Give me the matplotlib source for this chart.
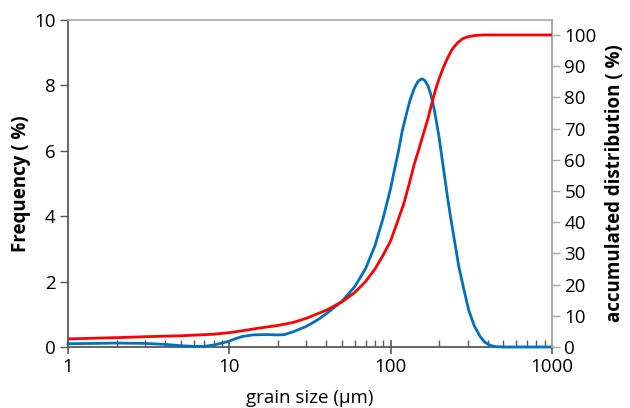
import numpy as np
import matplotlib
matplotlib.use("Agg")
import matplotlib.pyplot as plt
from matplotlib.ticker import FixedLocator, NullFormatter, LogLocator

plt.rcParams['font.family'] = ['Open Sans', 'DejaVu Sans']

# frequency curve (blue)
size_freq = [1, 1.5, 2, 3, 4, 5, 6, 7, 8, 9, 10, 11, 12, 14, 17, 20, 22, 25, 30, 35,
             40, 50, 60, 70, 80, 90, 100, 106, 112, 118, 125, 132, 140, 147, 152, 157,
             163, 170, 177, 185, 193, 200, 208, 215, 225, 235, 250, 265, 285, 305,
             330, 360, 385, 414, 450, 500, 600, 800, 1000]
freq = [0.10, 0.11, 0.12, 0.11, 0.08, 0.04, 0.02, 0.02, 0.06, 0.12, 0.18, 0.26, 0.32,
        0.37, 0.38, 0.37, 0.38, 0.47, 0.63, 0.82, 1.02, 1.40, 1.85, 2.40, 3.10, 3.95,
        4.85, 5.45, 6.0, 6.6, 7.1, 7.55, 7.9, 8.1, 8.17, 8.2, 8.15, 8.0, 7.75, 7.35,
        6.85, 6.4, 5.8, 5.3, 4.6, 4.0, 3.2, 2.45, 1.75, 1.13, 0.65, 0.31, 0.14, 0.05,
        0.01, 0, 0, 0, 0]

# accumulated distribution (red)
size_cum = [1, 2, 3, 5, 8, 10, 12, 15, 20, 25, 30, 40, 50, 60, 70, 80, 90, 100, 110,
            120, 130, 140, 150, 160, 170, 180, 190, 200, 212, 225, 240, 260, 280, 300,
            330, 370, 420, 1000]
cum = [2.6, 3.0, 3.3, 3.6, 4.1, 4.6, 5.2, 6.0, 6.9, 7.9, 9.2, 11.8, 14.5, 17.5, 21.0,
       25.0, 29.5, 34.0, 40.0, 45.5, 52.0, 58.5, 63.5, 68.5, 73.0, 78.0, 82.5, 86.0,
       89.5, 92.5, 95.3, 97.5, 98.8, 99.4, 99.8, 100, 100, 100]

blue = '#0070C0'
red = '#FF0000'
dark = '#595959'
light = '#A6A6A6'
fs = 13.5

fig = plt.figure(figsize=(6.3, 4.08), dpi=100)
ax1 = fig.add_axes([0.108, 0.1495, 0.768, 0.8015])
ax2 = ax1.twinx()

ax1.plot(size_freq, freq, color=blue, lw=2.0, zorder=3, clip_on=False,
         solid_joinstyle='round')
ax2.plot(size_cum, cum, color=red, lw=2.0, zorder=3, solid_joinstyle='round')

ax1.set_xscale('log')
ax1.set_xlim(1, 1000)
ax1.set_ylim(0, 10)
ax2.set_ylim(0, 104.8)

ax1.xaxis.set_major_locator(FixedLocator([1, 10, 100, 1000]))
ax1.set_xticklabels(['1', '10', '100', '1000'])
ax1.xaxis.set_minor_locator(LogLocator(base=10, subs=np.arange(2, 10)))
ax1.xaxis.set_minor_formatter(NullFormatter())
ax1.set_yticks([0, 2, 4, 6, 8, 10])
ax2.set_yticks(range(0, 101, 10))

ax1.tick_params(axis='x', which='major', direction='inout', length=10, width=1.2,
                color=dark, labelsize=fs, pad=3)
ax1.tick_params(axis='x', which='minor', direction='in', length=5, width=1,
                color=dark)
ax1.tick_params(axis='y', direction='out', length=6, width=1, color=dark,
                labelsize=fs, pad=3)
ax2.tick_params(axis='y', direction='out', length=6, width=1, color=light,
                labelsize=fs, pad=3)

for s in ['left', 'bottom']:
    ax1.spines[s].set_color(dark)
    ax1.spines[s].set_linewidth(1.3)
for s in ['top', 'right']:
    ax1.spines[s].set_color(light)
    ax1.spines[s].set_linewidth(1.2)
for s in ['left', 'bottom', 'top']:
    ax2.spines[s].set_visible(False)
ax2.spines['right'].set_color(light)
ax2.spines['right'].set_linewidth(1.2)

ax1.set_xlabel('grain size (\u00b5m)', fontsize=fs, labelpad=9)
ax1.set_ylabel('Frequency ( %)', fontsize=fs, fontweight='bold', labelpad=2)
ax2.set_ylabel('accumulated distribution ( %)', fontsize=fs, fontweight='bold',
               labelpad=6)

fig.savefig('out.png', dpi=100)
